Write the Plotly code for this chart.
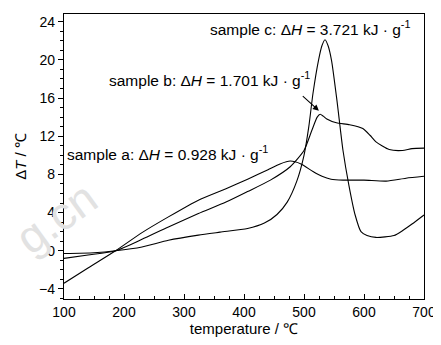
import plotly.graph_objects as go

# Sample a
xa = [100, 140, 186, 230, 274, 324, 370, 406, 440, 460, 477, 495, 515, 530, 545, 565, 600, 637, 670, 700]
ya = [-3.4, -1.8, 0.0, 1.9, 3.55, 5.3, 6.5, 7.5, 8.5, 9.1, 9.4, 9.1, 8.3, 7.8, 7.5, 7.4, 7.4, 7.3, 7.6, 7.8]

# Sample b
xb = [100, 140, 186, 230, 274, 324, 370, 406, 444, 477, 500, 513, 522, 527, 532, 538, 554, 576, 598, 610, 620, 642, 664, 680, 700]
yb = [-0.8, -0.45, 0.0, 1.2, 2.5, 3.9, 5.1, 6.2, 7.4, 8.8, 10.5, 12.6, 14.0, 14.3, 14.1, 13.8, 13.4, 13.2, 12.8, 12.1, 11.4, 10.6, 10.5, 10.7, 10.75]

# Sample c
xc = [100, 150, 186, 230, 274, 324, 360, 406, 434, 455, 472, 488, 500, 508, 515, 524, 530, 535, 540, 546, 555, 565, 575, 585, 595, 605, 620, 650, 664, 680, 700]
yc = [-0.28, -0.2, 0.0, 0.4, 1.1, 1.64, 1.95, 2.33, 2.9, 3.8, 5.1, 7.3, 10.0, 13.0, 16.5, 19.9, 21.5, 22.1, 21.5, 19.9, 15.7, 10.5, 6.8, 3.8, 2.0, 1.6, 1.4, 1.6, 2.1, 2.8, 3.75]

x_ticks = [100, 200, 300, 400, 500, 600, 700]
y_ticks = [-4, 0, 4, 8, 12, 16, 20, 24]

FONT = "Liberation Sans, Arial, sans-serif"

fig = go.Figure()
for xs, ys in [(xa, ya), (xb, yb), (xc, yc)]:
    fig.add_trace(go.Scatter(x=xs, y=ys, mode="lines",
                             line=dict(color="black", width=1.1, shape="spline", smoothing=0.6),
                             showlegend=False, hoverinfo="skip"))

ann_font = dict(family=FONT, size=15.5, color="black")
fig.add_annotation(x=510, y=23.35, text="sample c: Δ<i>H</i> = 3.721 kJ · g<sup>-1</sup>",
                   showarrow=False, font=ann_font, xanchor="center", yanchor="middle")
fig.add_annotation(x=342.6, y=18.0, text="sample b: Δ<i>H</i> = 1.701 kJ · g<sup>-1</sup>",
                   showarrow=False, font=ann_font, xanchor="center", yanchor="middle")
fig.add_annotation(x=272.6, y=10.2, text="sample a: Δ<i>H</i> = 0.928 kJ · g<sup>-1</sup>",
                   showarrow=False, font=ann_font, xanchor="center", yanchor="middle")
# arrow to peak b
fig.add_annotation(x=524.8, y=14.67, ax=495.5, ay=16.35, axref="x", ayref="y",
                   text="", showarrow=True, arrowhead=2, arrowsize=1.1, arrowwidth=1.1,
                   arrowcolor="black")
# watermark
fig.add_annotation(xref="paper", yref="paper", x=-0.022, y=0.283, text="g.cn",
                   xanchor="center", yanchor="middle",
                   showarrow=False, textangle=-36,
                   font=dict(family="Liberation Sans, Arial, sans-serif", size=46, color="#e2e2e2"))

fig.update_xaxes(range=[100, 700], tickvals=x_ticks, ticks="inside", ticklen=5, tickwidth=1,
                 tickcolor="black", showline=True, linecolor="black", linewidth=1.3, mirror=True,
                 showgrid=False, zeroline=False, ticklabeloverflow="allow",
                 minor=dict(dtick=25, ticks="inside", ticklen=3, tickcolor="black", tickwidth=1, showgrid=False),
                 tickfont=dict(family=FONT, size=14, color="black"),
                 title=dict(text="temperature / ℃", font=dict(family=FONT, size=15, color="black"), standoff=2))
fig.update_yaxes(range=[-5.05, 24.8], tickvals=y_ticks, ticks="outside", ticklen=5, tickwidth=1,
                 tickcolor="black", showline=True, linecolor="black", linewidth=1.3, mirror=True,
                 showgrid=False, zeroline=False,
                 minor=dict(dtick=1, ticks="outside", ticklen=3, tickcolor="black", tickwidth=1, showgrid=False),
                 tickfont=dict(family=FONT, size=14, color="black"),
                 title=dict(text="Δ<i>T</i> / ℃", font=dict(family=FONT, size=15, color="black"), standoff=8))

# page body has an 8px default margin, so the figure is sized/offset to compensate
fig.update_layout(width=433, height=337, margin=dict(l=56, r=13, t=5, b=46),
                  plot_bgcolor="white", paper_bgcolor="white")

fig.write_html("out.html")
